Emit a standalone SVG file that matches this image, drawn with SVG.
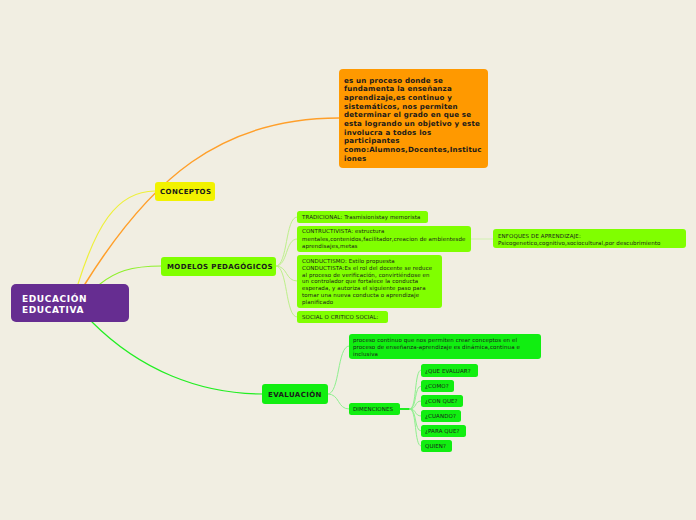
<svg xmlns="http://www.w3.org/2000/svg" width="696" height="520" viewBox="0 0 696 520">
<style>
  .t { font-family: "DejaVu Sans", Verdana, sans-serif; fill: #1a1a1a; }
  .b { font-weight: bold; }
  .o { font-size: 7.1px; font-weight: bold; letter-spacing: 0.2px; }
  .s { font-size: 5.5px; letter-spacing: 0.1px; }
  .m { font-size: 7px; font-weight: bold; letter-spacing: 0.4px; }
  .c { fill: none; stroke-linecap: round; }
  .lg { stroke: #bdf08a; stroke-width: 1; }
  .gg { stroke: #8ef08e; stroke-width: 1; }
  .lime { fill: #80ff00; }
  .grn { fill: #11ee11; }
</style>
<rect width="696" height="520" fill="#f1eee2"/>
<g id="connectors">
  <path class="c" d="M78,284 C 95,230 115,191 155,191" stroke="#eef03a" stroke-width="1.2"/>
  <path class="c" d="M85,284 C 150,180 220,118 339,118" stroke="#ff9f2a" stroke-width="1.5"/>
  <path class="c" d="M100,284 C 115,272 130,266 162,266" stroke="#8ef02a" stroke-width="1.2"/>
  <path class="c" d="M92,322 C 140,370 200,394 263,394" stroke="#22ee22" stroke-width="1.2"/>
  <path class="c lg" d="M276,266 C 288,266 285,217 297,217"/>
  <path class="c lg" d="M276,266 C 288,266 285,239 297,239"/>
  <path class="c lg" d="M276,266 C 288,266 285,281 297,281"/>
  <path class="c lg" d="M276,266 C 288,266 285,317 297,317"/>
  <path class="c" d="M471,239 L493,239" stroke="#d2f0b0" stroke-width="1.2"/>
  <path class="c gg" d="M328,394 C 340,394 337,346 349,346"/>
  <path class="c gg" d="M328,394 C 340,394 337,409 349,409"/>
  <path class="c" d="M400,409 L411,409" stroke="#22ee22" stroke-width="2.2"/>
  <path class="c gg" d="M410,409 C 417,409 414,370 421,370"/>
  <path class="c gg" d="M410,409 C 417,409 414,386 421,386"/>
  <path class="c gg" d="M410,409 C 417,409 414,401 421,401"/>
  <path class="c gg" d="M410,409 C 417,409 414,416 421,416"/>
  <path class="c gg" d="M410,409 C 417,409 414,431 421,431"/>
  <path class="c gg" d="M410,409 C 417,409 414,446 421,446"/>
</g>
<g id="root">
  <rect x="11" y="284" width="118" height="38" rx="5" fill="#662d91"/>
  <text class="t b" x="22" y="301.5" font-size="9" letter-spacing="0.6" style="fill:#ffffff">EDUCACIÓN</text>
  <text class="t b" x="22" y="313" font-size="9" letter-spacing="0.6" style="fill:#ffffff">EDUCATIVA</text>
</g>
<g id="conceptos">
  <rect x="155" y="182" width="60" height="19" rx="3" fill="#f2f200"/>
  <text class="t m" x="160" y="194">CONCEPTOS</text>
</g>
<g id="conceptos-def">
  <rect x="339" y="69" width="149" height="99" rx="4" fill="#ff9900"/>
  <text class="t o" x="344" y="82.5">es un proceso donde se</text>
  <text class="t o" x="344" y="91.2">fundamenta la enseñanza</text>
  <text class="t o" x="344" y="99.9">aprendizaje,es continuo y</text>
  <text class="t o" x="344" y="108.6">sistemáticos, nos permiten</text>
  <text class="t o" x="344" y="117.3">determinar el grado en que se</text>
  <text class="t o" x="344" y="126">esta logrando un objetivo y este</text>
  <text class="t o" x="344" y="134.7">involucra a todos los</text>
  <text class="t o" x="344" y="143.4">participantes</text>
  <text class="t o" x="344" y="152.1">como:Alumnos,Docentes,Instituc</text>
  <text class="t o" x="344" y="160.8">iones</text>
</g>
<g id="modelos">
  <rect x="161" y="257" width="115" height="19" rx="3" class="lime"/>
  <text class="t m" x="167" y="269">MODELOS PEDAGÓGICOS</text>
</g>
<g id="tradicional">
  <rect x="297" y="211" width="131" height="12" rx="2.5" class="lime"/>
  <text class="t s" x="302" y="219">TRADICIONAL: Trasmisionistay memorista</text>
</g>
<g id="constructivista">
  <rect x="297" y="226" width="174" height="26" rx="3" class="lime"/>
  <text class="t s" x="302" y="233">CONTRUCTIVISTA: estructura</text>
  <text class="t s" x="302" y="240.5">mentales,contenidos,facilitador,creacion de ambientesde</text>
  <text class="t s" x="302" y="248">aprendisajes,metas</text>
</g>
<g id="enfoques">
  <rect x="493" y="229" width="193" height="19" rx="3" class="lime"/>
  <text class="t s" x="498" y="238">ENFOQUES DE APRENDIZAJE:</text>
  <text class="t s" x="498" y="245">Psicogenetico,cognitivo,sociocultural,por descubrimiento</text>
</g>
<g id="conductismo">
  <rect x="297" y="255" width="145" height="53" rx="3" class="lime"/>
  <text class="t s" x="302" y="262.7">CONDUCTISMO: Estilo propuesta</text>
  <text class="t s" x="302" y="269.6">CONDUCTISTA:Es el rol del docente se reduce</text>
  <text class="t s" x="302" y="276.5">al proceso de verificación, convirtiéndose en</text>
  <text class="t s" x="302" y="283.4">un controlador que fortalece la conducta</text>
  <text class="t s" x="302" y="290.3">esperada, y autoriza el siguiente paso para</text>
  <text class="t s" x="302" y="297.2">tomar una nueva conducta o aprendizaje</text>
  <text class="t s" x="302" y="304.1">planificado</text>
</g>
<g id="social">
  <rect x="297" y="311" width="91" height="12" rx="2.5" class="lime"/>
  <text class="t s" x="302" y="319">SOCIAL O CRITICO SOCIAL:</text>
</g>
<g id="evaluacion">
  <rect x="262" y="384" width="66" height="20" rx="3" class="grn"/>
  <text class="t m" x="268" y="397">EVALUACIÓN</text>
</g>
<g id="proceso">
  <rect x="349" y="334" width="192" height="25" rx="3" class="grn"/>
  <text class="t s" x="353" y="342">proceso continuo que nos permiten crear conceptos en el</text>
  <text class="t s" x="353" y="349">proceso de enseñanza-aprendizaje es dinámica,continua e</text>
  <text class="t s" x="353" y="356">inclusiva</text>
</g>
<g id="dimenciones">
  <rect x="349" y="403" width="51" height="12" rx="2.5" class="grn"/>
  <text class="t s" x="353" y="411.3">DIMENCIONES</text>
</g>
<g id="que-evaluar">
  <rect x="421" y="364" width="57" height="13" rx="2.5" class="grn"/>
  <text class="t s" x="425" y="372.8">¿QUE EVALUAR?</text>
</g>
<g id="como">
  <rect x="421" y="380" width="33" height="12" rx="2.5" class="grn"/>
  <text class="t s" x="425" y="388.3">¿COMO?</text>
</g>
<g id="con-que">
  <rect x="421" y="395" width="42" height="12" rx="2.5" class="grn"/>
  <text class="t s" x="425" y="403.3">¿CON QUE?</text>
</g>
<g id="cuando">
  <rect x="421" y="410" width="40" height="12" rx="2.5" class="grn"/>
  <text class="t s" x="425" y="418.3">¿CUANDO?</text>
</g>
<g id="para-que">
  <rect x="421" y="425" width="45" height="12" rx="2.5" class="grn"/>
  <text class="t s" x="425" y="433.3">¿PARA QUE?</text>
</g>
<g id="quien">
  <rect x="421" y="440" width="31" height="12" rx="2.5" class="grn"/>
  <text class="t s" x="425" y="448.3">QUIEN?</text>
</g>
</svg>
